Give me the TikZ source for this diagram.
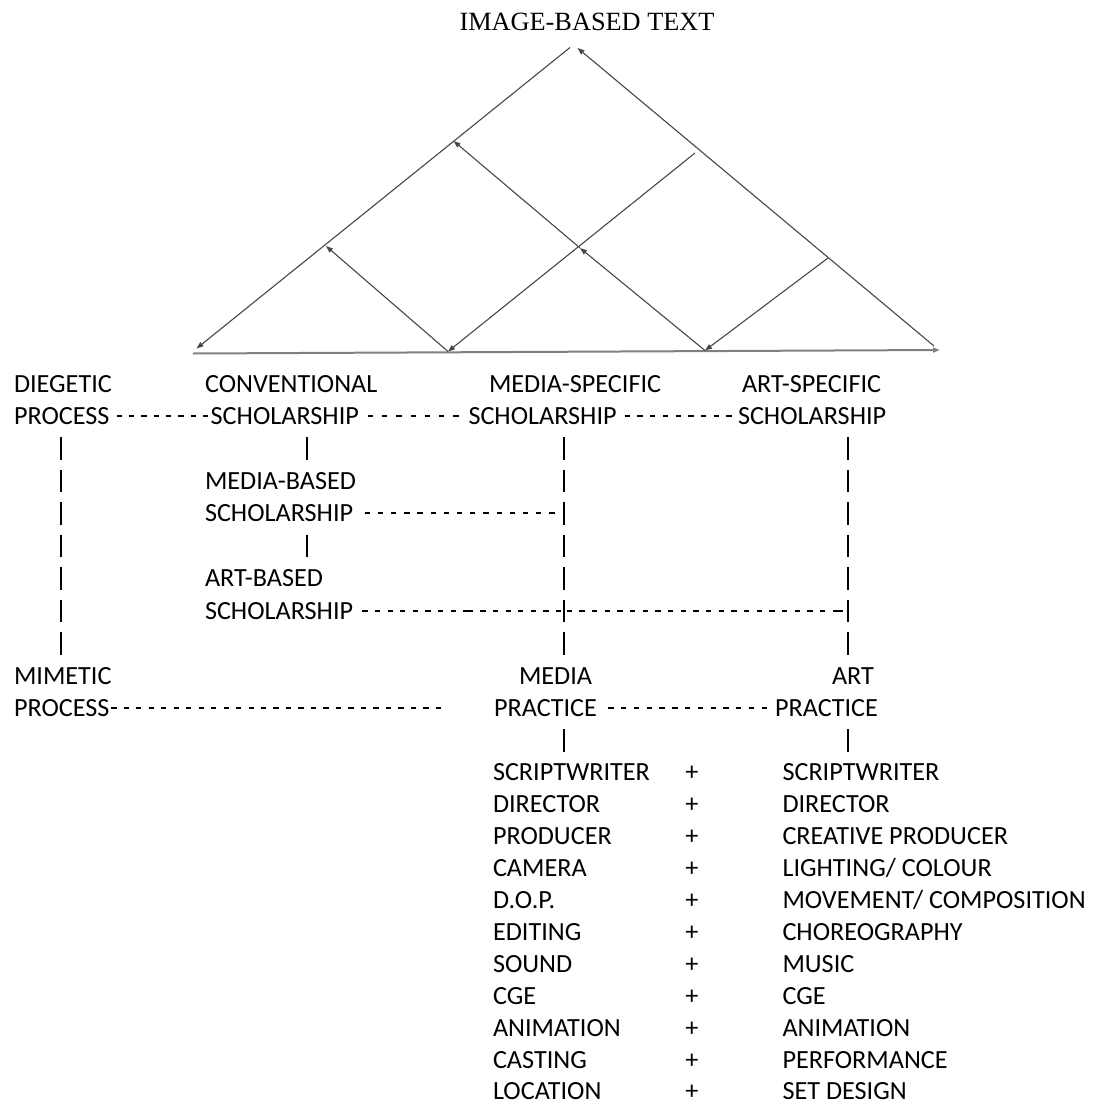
\documentclass[tikz,border=0pt]{standalone}
\usepackage{fontspec}
\setmainfont{Carlito}
\newfontfamily\titlefont{Liberation Serif}
\usetikzlibrary{arrows.meta}
\begin{document}
\begin{tikzpicture}[x=1pt,y=-1pt,
  txt/.style={anchor=base west, inner sep=0pt, outer sep=0pt, font=\fontsize{26.2pt}{32.45pt}\selectfont},
  plus/.style={txt, anchor=base},
  tri/.style={draw=black!72, line width=1.1pt, -{Triangle[length=7pt,width=5pt]}},
  tline/.style={draw=black!72, line width=1.1pt},
  baseline line/.style={draw=black!50, line width=2pt, -{Triangle[length=7pt,width=5pt]}},
  hd/.style={draw=black, line width=1.9pt, dash pattern=on 5.3pt off #1},
  hd/.default=7pt,
  hdx/.style={draw=black, line width=1.9pt},
  vb/.style={draw=black, line width=1.9pt, dash pattern=on 22.7pt off 9.75pt, shorten <=12.85pt, shorten >=29.35pt},
  vbl/.style={draw=black, line width=1.9pt, dash pattern=on 22.7pt off 9.75pt, shorten <=12.85pt, shorten >=28.8pt},
]
\fill[white] (0,0) rectangle (1095,1108);
\useasboundingbox (0,0) rectangle (1095,1108);

% ---------- title ----------
\node[anchor=base, inner sep=0pt, font=\titlefont\fontsize{26.3pt}{30pt}\selectfont] (title) at (587,31) {IMAGE-BASED TEXT};

% ---------- triangle ----------
\coordinate (apexL) at (570,47.5);
\coordinate (apexR) at (577.5,48);
\coordinate (bl) at (196.5,348.5);
\coordinate (blin) at (193,353.5);
\coordinate (brt) at (940,350);
\coordinate (br) at (934,346);
\coordinate (b1) at (448,351.5);
\coordinate (b2) at (705,350.5);
\coordinate (l1p) at (453.6,141);
\coordinate (l2p) at (326,246);
\coordinate (cp) at (580,248);
\coordinate (e1) at (695,153);
\coordinate (r1p) at (828,258);

\draw[baseline line] (blin) -- (brt);
\draw[tri] (apexL) -- (bl);
\draw[tri] (br) -- (apexR);
\draw[tri] (e1) -- (b1);
\draw[tri] (b1) -- (l2p);
\draw[tri] (b2) -- (cp);
\draw[tri] (cp) -- (l1p);
\draw[tri] (r1p) -- (b2);

% ---------- column x positions ----------
\coordinate (xA) at (61,0);
\coordinate (xB) at (307,0);
\coordinate (xC) at (564,0);
\coordinate (xD) at (848,0);

% ---------- upper labels ----------
\node[txt] (dieg1) at (14,392) {DIEGETIC};
\node[txt] (dieg2) at (14,424.45) {PROCESS};
\node[txt] (conv1) at (205,392) {CONVENTIONAL};
\node[txt] (conv2) at (210.7,424.45) {SCHOLARSHIP};
\node[txt] (mspec1) at (489,392) {MEDIA-SPECIFIC};
\node[txt] (mspec2) at (468.5,424.45) {SCHOLARSHIP};
\node[txt] (aspec1) at (742,392) {ART-SPECIFIC};
\node[txt] (aspec2) at (738,424.45) {SCHOLARSHIP};
\node[txt] (mbased1) at (205,489.35) {MEDIA-BASED};
\node[txt] (mbased2) at (205,521.8) {SCHOLARSHIP};
\node[txt] (abased1) at (205,586.7) {ART-BASED};
\node[txt] (abased2) at (205,619.15) {SCHOLARSHIP};
\node[txt] (mim1) at (14,684.05) {MIMETIC};
\node[txt] (mim2) at (14,716.5) {PROCESS};
\node[txt] (media1) at (519,684.05) {MEDIA};
\node[txt] (media2) at (494,716.5) {PRACTICE};
\node[txt] (art1) at (832,684.05) {ART};
\node[txt] (art2) at (775,716.5) {PRACTICE};

% ---------- list ----------
\node[txt] (l1) at (493,780.9) {SCRIPTWRITER};
\node[plus] (p1) at (692,780.9) {+};
\node[txt] (r1) at (782.5,780.9) {SCRIPTWRITER};
\node[txt] (l2) at (493,812.8) {DIRECTOR};
\node[plus] (p2) at (692,812.8) {+};
\node[txt] (r2) at (782.5,812.8) {DIRECTOR};
\node[txt] (l3) at (493,844.7) {PRODUCER};
\node[plus] (p3) at (692,844.7) {+};
\node[txt] (r3) at (782.5,844.7) {CREATIVE PRODUCER};
\node[txt] (l4) at (493,876.6) {CAMERA};
\node[plus] (p4) at (692,876.6) {+};
\node[txt] (r4) at (782.5,876.6) {LIGHTING/ COLOUR};
\node[txt] (l5) at (493,908.5) {D.O.P.};
\node[plus] (p5) at (692,908.5) {+};
\node[txt] (r5) at (782.5,908.5) {MOVEMENT/ COMPOSITION};
\node[txt] (l6) at (493,940.4) {EDITING};
\node[plus] (p6) at (692,940.4) {+};
\node[txt] (r6) at (782.5,940.4) {CHOREOGRAPHY};
\node[txt] (l7) at (493,972.3) {SOUND};
\node[plus] (p7) at (692,972.3) {+};
\node[txt] (r7) at (782.5,972.3) {MUSIC};
\node[txt] (l8) at (493,1004.2) {CGE};
\node[plus] (p8) at (692,1004.2) {+};
\node[txt] (r8) at (782.5,1004.2) {CGE};
\node[txt] (l9) at (493,1036.1) {ANIMATION};
\node[plus] (p9) at (692,1036.1) {+};
\node[txt] (r9) at (782.5,1036.1) {ANIMATION};
\node[txt] (l10) at (493,1068) {CASTING};
\node[plus] (p10) at (692,1068) {+};
\node[txt] (r10) at (782.5,1068) {PERFORMANCE};
\node[txt] (l11) at (493,1099.9) {LOCATION};
\node[plus] (p11) at (692,1099.9) {+};
\node[txt] (r11) at (782.5,1099.9) {SET DESIGN};

% ---------- vertical connectors ----------
\draw[vb] (dieg2.base -| xA) -- (mim1.base -| xA);
\draw[vb] (conv2.base -| xB) -- (mbased1.base -| xB);
\draw[vb] (mbased2.base -| xB) -- (abased1.base -| xB);
\draw[vb] (mspec2.base -| xC) -- (media1.base -| xC);
\draw[vb] (aspec2.base -| xD) -- (art1.base -| xD);
\draw[vbl] (media2.base -| xC) -- (l1.base -| xC);
\draw[vbl] (art2.base -| xD) -- (r1.base -| xD);

% ---------- horizontal connectors ----------
\draw[hd=7.06pt, shorten <=7.1pt] ([yshift=8.5pt]dieg2.base east) -- ([yshift=8.5pt]conv2.base west);
\draw[hd=8.95pt, shorten <=9pt, shorten >=3pt] ([yshift=8.5pt]conv2.base east) -- ([yshift=8.5pt]mspec2.base west);
\draw[hd=7.4pt, shorten <=8pt] ([yshift=8.5pt]mspec2.base east) -- ([yshift=8.5pt]aspec2.base west);
\draw[hd=7.89pt, shorten <=11.4pt, shorten >=3pt] ([yshift=8.5pt]mbased2.base east) -- ([yshift=8.5pt]mbased2.base -| xC);
\draw[hdx, shorten <=9.1pt, shorten >=2pt,
  dash pattern=on 5.3pt off 7.3pt on 5.3pt off 7.3pt on 5.3pt off 7.3pt on 5.3pt off 7.3pt on 5.3pt off 7.3pt on 5.3pt off 7.3pt on 5.3pt off 7.3pt on 5.3pt off 7.3pt on 9.7pt off 7.5pt on 5.3pt off 7.3pt on 5.3pt off 7.3pt on 5.3pt off 7.3pt on 5.3pt off 7.3pt on 5.3pt off 7.3pt on 5.3pt off 7.3pt on 5.3pt off 7.3pt]
  ([yshift=8.5pt]abased2.base east) -- ([yshift=8.5pt]abased2.base -| xC);
\draw[hdx, shorten <=2.7pt, shorten >=5pt,
  dash pattern=on 5.3pt off 7.37pt on 5.3pt off 7.37pt on 5.3pt off 7.37pt on 5.3pt off 7.37pt on 5.3pt off 7.37pt on 5.3pt off 7.37pt on 5.3pt off 7.37pt on 5.3pt off 7.37pt on 5.3pt off 7.37pt on 5.3pt off 7.37pt on 5.3pt off 7.37pt on 5.3pt off 7.37pt on 5.3pt off 7.37pt on 5.3pt off 7.37pt on 5.3pt off 7.37pt on 5.3pt off 7.37pt on 5.3pt off 7.37pt on 5.3pt off 7.37pt on 5.3pt off 7.37pt on 5.3pt off 7.37pt on 5.3pt off 7.37pt on 10pt off 20pt]
  ([yshift=8.5pt]abased2.base -| xC) -- ([yshift=8.5pt]abased2.base -| xD);
\coordinate (mimEnd) at (442,708);
\draw[hd=7.18pt, shorten <=1.8pt] ([yshift=8.5pt]mim2.base east) -- (mimEnd);
\draw[hd=7.48pt, shorten <=11.4pt, shorten >=2pt] ([yshift=8.5pt]media2.base east) -- ([yshift=8.5pt]art2.base west);
\end{tikzpicture}
\end{document}
